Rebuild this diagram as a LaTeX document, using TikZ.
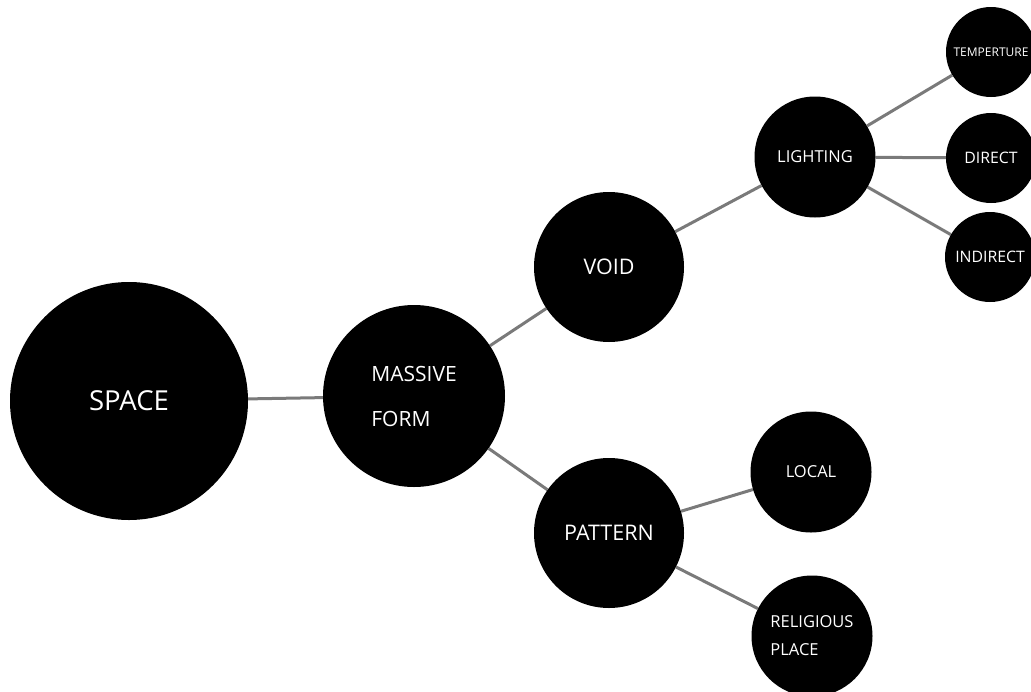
\documentclass[tikz,border=0pt]{standalone}
\usepackage{fontspec}
\setmainfont{Open Sans}
\usepackage{tikz}
\usetikzlibrary{backgrounds}
\definecolor{edgegray}{RGB}{122,122,122}
\tikzstyle{bubble}=[circle,fill=black,text=white,inner sep=0pt,align=left]
\tikzstyle{root bubble}=[bubble,minimum size=238pt,font=\fontsize{27.5}{32}\selectfont]
\tikzstyle{main bubble}=[bubble,minimum size=182pt,font=\fontsize{21}{45}\selectfont]
\tikzstyle{mid bubble}=[bubble,minimum size=150pt,font=\fontsize{21.5}{26}\selectfont]
\tikzstyle{small bubble}=[bubble,minimum size=121pt,font=\fontsize{16.5}{28}\selectfont]
\tikzstyle{leaf bubble}=[bubble,minimum size=90pt,font=\fontsize{15.8}{18}\selectfont]
\tikzstyle{bubbleedge}=[line width=3pt,edgegray]

\begin{document}
\begin{tikzpicture}[x=1pt,y=-1pt]
\useasboundingbox (0,0) rectangle (1031,691);

	% Root and first level
    \node[root bubble] (space) at (129,401) {SPACE};
    \node[main bubble] (massive) at (414,396) {MASSIVE\\FORM};

	% Second level
    \node[mid bubble] (void) at (609,267) {VOID};
    \node[mid bubble] (pattern) at (609,533) {PATTERN};

	% Third level
    \node[small bubble] (lighting) at (815,157) {LIGHTING};
    \node[small bubble] (local) at (811,472) {LOCAL};
    \node[small bubble] (religious) at (812,636) {RELIGIOUS\\PLACE};

	% Leaves
    \node[leaf bubble, font=\fontsize{12}{14}\selectfont] (temp) at (991,52) {TEMPERTURE};
    \node[leaf bubble] (direct) at (991,158) {DIRECT};
    \node[leaf bubble] (indirect) at (990,257) {INDIRECT};

	% Edges behind the bubbles
    \begin{scope}[on background layer]
    \draw[bubbleedge] (space) -- (massive);
    \foreach \dest in {void,pattern}
        \draw[bubbleedge] (massive) -- (\dest);
    \draw[bubbleedge] (void) -- (lighting);
    \foreach \dest in {temp,direct,indirect}
        \draw[bubbleedge] (lighting) -- (\dest);
    \foreach \dest in {local,religious}
        \draw[bubbleedge] (pattern) -- (\dest);
    \end{scope}

\end{tikzpicture}
\end{document}
